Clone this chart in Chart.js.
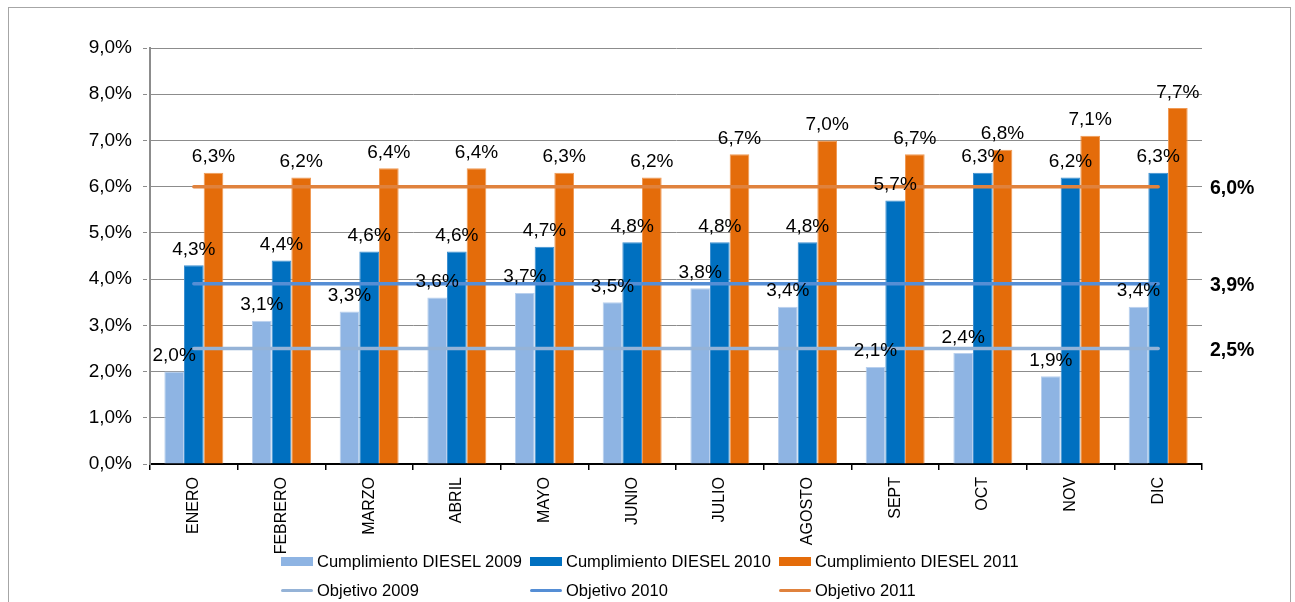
<!DOCTYPE html>
<html>
<head>
<meta charset="utf-8">
<script src="https://cdn.jsdelivr.net/npm/chart.js@4.4.1/dist/chart.umd.min.js"></script>
<style>
  body { margin: 0; background: #fff; font-family: "Liberation Sans", Arial, sans-serif; }
  #frame { position: absolute; left: 8px; top: 7px; width: 1281px; height: 620px; border: 1px solid #a6a6a6; }
  #wrap { position: absolute; left: 0; top: 0; width: 1295px; height: 602px; }
  #legend { position: absolute; left: 281px; top: 547px; }
  .row { display: flex; height: 29px; align-items: center; }
  .item { width: 249px; display: flex; align-items: center; font-size: 16.5px; color: #000; }
  .sw { width: 32px; margin-right: 4px; }
</style>
</head>
<body>
<div id="frame"></div>
<div id="wrap"><canvas id="chart" width="1295" height="602"></canvas></div>
<div id="legend"></div>
<script>
// categorias y valores (%)
let meses = ["ENERO", "FEBRERO", "MARZO", "ABRIL", "MAYO", "JUNIO", "JULIO", "AGOSTO", "SEPT", "OCT", "NOV", "DIC"];
let diesel2009 = [2.0, 3.1, 3.3, 3.6, 3.7, 3.5, 3.8, 3.4, 2.1, 2.4, 1.9, 3.4];
let diesel2010 = [4.3, 4.4, 4.6, 4.6, 4.7, 4.8, 4.8, 4.8, 5.7, 6.3, 6.2, 6.3];
let diesel2011 = [6.3, 6.2, 6.4, 6.4, 6.3, 6.2, 6.7, 7.0, 6.7, 6.8, 7.1, 7.7];
let objetivo2009 = [2.5, 2.5, 2.5, 2.5, 2.5, 2.5, 2.5, 2.5, 2.5, 2.5, 2.5, 2.5];
let objetivo2010 = [3.9, 3.9, 3.9, 3.9, 3.9, 3.9, 3.9, 3.9, 3.9, 3.9, 3.9, 3.9];
let objetivo2011 = [6.0, 6.0, 6.0, 6.0, 6.0, 6.0, 6.0, 6.0, 6.0, 6.0, 6.0, 6.0];
let yMin = 0, yMax = 9, yStep = 1;

function pct(v) { return v.toFixed(1).replace(".", ",") + "%"; }

// etiquetas encima de cada barra + valor del objetivo a la derecha
const labelsPlugin = {
    id: "labelsPlugin",
    afterDatasetsDraw(chart) {
        const ctx = chart.ctx;
        const yScale = chart.scales.y;
        ctx.save();
        ctx.fillStyle = "#000";
        ctx.textAlign = "center";
        ctx.textBaseline = "alphabetic";
        ctx.font = "19px 'Liberation Sans', Arial, sans-serif";
        chart.data.datasets.forEach(function (ds, i) {
            if (ds.type !== "bar") return;
            chart.getDatasetMeta(i).data.forEach(function (bar, j) {
                ctx.fillText(pct(ds.data[j]), bar.x, bar.y - 10.5);
            });
        });
        ctx.textAlign = "left";
        ctx.font = "bold 19.5px 'Liberation Sans', Arial, sans-serif";
        chart.data.datasets.forEach(function (ds) {
            if (ds.type !== "line") return;
            let v = ds.data[ds.data.length - 1];
            ctx.textBaseline = "middle";
            ctx.fillText(pct(v), chart.chartArea.right + 8, yScale.getPixelForValue(v) + 2);
        });
        ctx.restore();
    }
};

let barSets = [
    { label: "Cumplimiento DIESEL 2009", data: diesel2009, color: "#8eb4e3", border: "#b9d0ee" },
    { label: "Cumplimiento DIESEL 2010", data: diesel2010, color: "#0070c0", border: "#3d8fd0" },
    { label: "Cumplimiento DIESEL 2011", data: diesel2011, color: "#e46c0a", border: "#f09a55" }
];
let lineSets = [
    { label: "Objetivo 2009", data: objetivo2009, color: "#95b3d7" },
    { label: "Objetivo 2010", data: objetivo2010, color: "#558ed5" },
    { label: "Objetivo 2011", data: objetivo2011, color: "#e0823d" }
];

let datasets = [];
barSets.forEach(function (b) {
    datasets.push({
        type: "bar", label: b.label, data: b.data, backgroundColor: b.color,
        borderColor: b.border, borderWidth: { left: 1, right: 1, top: 1, bottom: 0 },
        categoryPercentage: 0.673, barPercentage: 1.0, order: 1
    });
});
lineSets.forEach(function (l) {
    datasets.push({
        type: "line", label: l.label, data: l.data, borderColor: l.color, backgroundColor: l.color,
        borderWidth: 3.5, pointRadius: 0, borderCapStyle: "round", order: 0
    });
});

new Chart(document.getElementById("chart"), {
    data: { labels: meses, datasets: datasets },
    options: {
        responsive: false,
        animation: false,
        events: [],
        layout: { padding: { left: 0, right: 93, top: 48, bottom: 48 } },
        plugins: { legend: { display: false }, tooltip: { enabled: false } },
        scales: {
            x: {
                offset: true,
                grid: { offset: true, drawOnChartArea: false, drawTicks: true, tickLength: 6, color: "#000", lineWidth: 1.5 },
                border: { display: true, color: "#000", width: 2 },
                ticks: {
                    autoSkip: false, minRotation: 90, maxRotation: 90, padding: 7, color: "#000",
                    font: { family: "'Liberation Sans', Arial, sans-serif", size: 16 }
                },
                afterFit: function (s) { s.height = 90; }
            },
            y: {
                min: yMin, max: yMax,
                grid: { color: "#8c8c8c", lineWidth: 1, tickLength: 7, tickBorderDash: [4, 3], tickColor: "#8c8c8c" },
                border: { display: true, color: "#8c8c8c", width: 2 },
                ticks: {
                    stepSize: yStep, padding: 11, color: "#000",
                    font: { family: "'Liberation Sans', Arial, sans-serif", size: 19 },
                    callback: function (v) { return pct(v); }
                },
                afterFit: function (s) { s.width = 150; }
            }
        }
    },
    plugins: [labelsPlugin]
});

// leyenda en dos filas y tres columnas
let legend = document.getElementById("legend");
[barSets, lineSets].forEach(function (set, r) {
    let row = document.createElement("div");
    row.className = "row";
    set.forEach(function (it) {
        let item = document.createElement("div");
        item.className = "item";
        let sw = document.createElement("span");
        sw.className = "sw";
        if (r === 0) { sw.style.height = "9px"; sw.style.background = it.color; }
        else { sw.style.height = "3.5px"; sw.style.borderRadius = "2px"; sw.style.background = it.color; }
        item.appendChild(sw);
        item.appendChild(document.createTextNode(it.label));
        row.appendChild(item);
    });
    legend.appendChild(row);
});
</script>
</body>
</html>
